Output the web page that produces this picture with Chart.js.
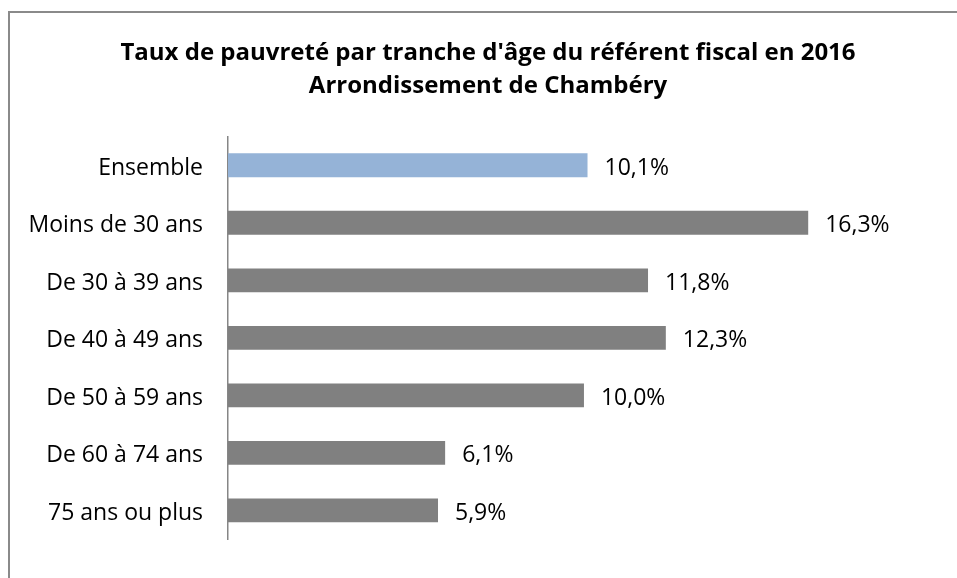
<!DOCTYPE html>
<html lang="fr">
<head>
<meta charset="utf-8">
<title>Taux de pauvreté par tranche d'âge</title>
<script src="https://cdn.jsdelivr.net/npm/chart.js@4/dist/chart.umd.min.js"></script>
<style>
    html, body { margin: 0; padding: 0; background: #fff; }
    #wrap { position: relative; width: 957px; height: 578px; }
</style>
</head>
<body>
<div id="wrap"><canvas id="chart" width="957" height="578"></canvas></div>
<script>
// Données
const categories = ['Ensemble', 'Moins de 30 ans', 'De 30 à 39 ans', 'De 40 à 49 ans',
    'De 50 à 59 ans', 'De 60 à 74 ans', '75 ans ou plus'];
const tauxPauvrete = [10.1, 16.3, 11.8, 12.3, 10.0, 6.1, 5.9];
const titleLines = ["Taux de pauvreté par tranche d'âge du référent fiscal en 2016",
    'Arrondissement de Chambéry'];

const FONT = "'Open Sans', 'Noto Sans', sans-serif";

// Couleur des barres : bleu pour l'ensemble, gris pour les tranches
const barColors = categories.map(c => c === 'Ensemble' ? '#95B3D7' : '#808080');

// Cadre gris autour du graphique
const framePlugin = {
    id: 'frame',
    beforeDraw(chart) {
        const ctx = chart.ctx;
        ctx.save();
        ctx.strokeStyle = '#8a8a8a';
        ctx.lineWidth = 2;
        ctx.strokeRect(9, 12, 1200, 1000);
        ctx.restore();
    }
};

// Étiquettes de valeur à droite des barres
const valueLabels = {
    id: 'valueLabels',
    afterDatasetsDraw(chart) {
        const ctx = chart.ctx;
        const meta = chart.getDatasetMeta(0);
        ctx.save();
        ctx.font = `23px ${FONT}`;
        ctx.fillStyle = '#000';
        ctx.textAlign = 'left';
        ctx.textBaseline = 'middle';
        meta.data.forEach((bar, i) => {
            const v = chart.data.datasets[0].data[i];
            const txt = v.toFixed(1).replace('.', ',') + '%';
            ctx.fillText(txt, bar.x + 17, bar.y + 3);
        });
        ctx.restore();
    }
};

const ctx = document.getElementById('chart').getContext('2d');
new Chart(ctx, {
    type: 'bar',
    data: {
        labels: categories,
        datasets: [{
            data: tauxPauvrete,
            backgroundColor: barColors,
            borderWidth: 0,
            barPercentage: 0.415,
            categoryPercentage: 1
        }]
    },
    options: {
        indexAxis: 'y',
        responsive: false,
        animation: false,
        layout: { padding: { top: 0, right: 0, bottom: 20, left: 19 } },
        plugins: {
            legend: { display: false },
            tooltip: { enabled: false },
            title: {
                display: true,
                text: titleLines,
                color: '#000',
                font: { family: FONT, size: 24, weight: 'bold', lineHeight: 1.375 },
                padding: { top: 37, bottom: 33.5 }
            }
        },
        scales: {
            x: {
                display: false,
                min: 0,
                max: 20.48
            },
            y: {
                grid: { display: false, drawTicks: false },
                border: { display: true, color: '#868686', width: 1.5 },
                ticks: {
                    color: '#000',
                    padding: 25,
                    labelOffset: 3,
                    font: { family: FONT, size: 23 }
                },
                afterFit(scale) { scale.width = 209; }
            }
        }
    },
    plugins: [framePlugin, valueLabels]
});
</script>
</body>
</html>
